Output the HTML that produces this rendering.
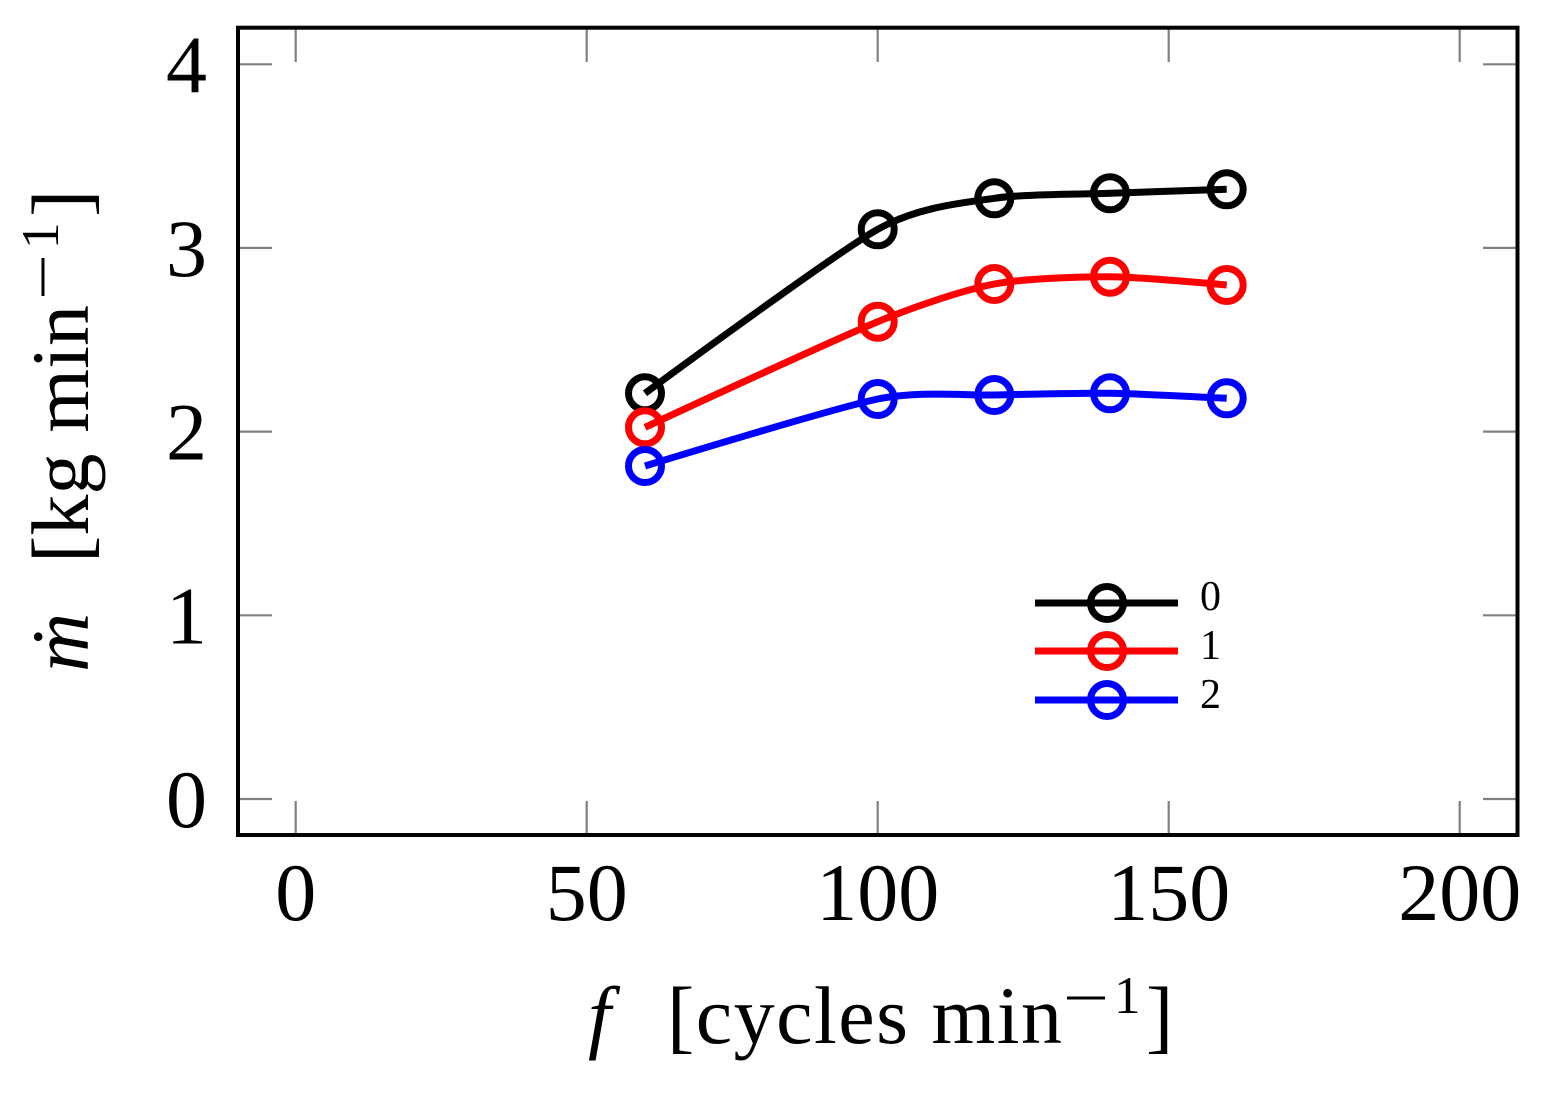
<!DOCTYPE html>
<html>
<head>
<meta charset="utf-8">
<style>
  html, body { margin: 0; padding: 0; background: #ffffff; }
  svg { display: block; }
  text { font-family: "Liberation Serif", "DejaVu Serif", serif; fill: #000; }
</style>
</head>
<body>
<svg width="1543" height="1094" viewBox="0 0 1543 1094" xmlns="http://www.w3.org/2000/svg">
  <rect x="0" y="0" width="1543" height="1094" fill="#ffffff"/>

  <!-- ticks -->
  <g stroke="#808080" stroke-width="2.2" fill="none">
    <line x1="295.7" y1="835" x2="295.7" y2="801"/>
    <line x1="586.7" y1="835" x2="586.7" y2="801"/>
    <line x1="877.7" y1="835" x2="877.7" y2="801"/>
    <line x1="1168.7" y1="835" x2="1168.7" y2="801"/>
    <line x1="1459.7" y1="835" x2="1459.7" y2="801"/>
    <line x1="295.7" y1="27.7" x2="295.7" y2="62"/>
    <line x1="586.7" y1="27.7" x2="586.7" y2="62"/>
    <line x1="877.7" y1="27.7" x2="877.7" y2="62"/>
    <line x1="1168.7" y1="27.7" x2="1168.7" y2="62"/>
    <line x1="1459.7" y1="27.7" x2="1459.7" y2="62"/>
    <line x1="238" y1="799" x2="272" y2="799"/>
    <line x1="238" y1="615.3" x2="272" y2="615.3"/>
    <line x1="238" y1="431.6" x2="272" y2="431.6"/>
    <line x1="238" y1="247.9" x2="272" y2="247.9"/>
    <line x1="238" y1="64.3" x2="272" y2="64.3"/>
    <line x1="1517.5" y1="799" x2="1483" y2="799"/>
    <line x1="1517.5" y1="615.3" x2="1483" y2="615.3"/>
    <line x1="1517.5" y1="431.6" x2="1483" y2="431.6"/>
    <line x1="1517.5" y1="247.9" x2="1483" y2="247.9"/>
    <line x1="1517.5" y1="64.3" x2="1483" y2="64.3"/>
  </g>

  <!-- series -->
  <g fill="none" stroke-width="7">
    <path stroke="#000000" d="M645,393.3 C645,393.3 835.8,252.7 877.7,229.3 C919.6,205.9 966.4,202.6 994.3,198.3 C1022.2,194.0 1082.1,194.4 1110,193.3 C1137.9,192.2 1226.7,189.3 1226.7,189.3"/>
    <g stroke="#000000">
      <circle cx="645" cy="393.3" r="16.5"/>
      <circle cx="877.7" cy="229.3" r="16.5"/>
      <circle cx="994.3" cy="198.3" r="16.5"/>
      <circle cx="1110" cy="193.3" r="16.5"/>
      <circle cx="1226.7" cy="189.3" r="16.5"/>
    </g>
    <path stroke="#ff0000" d="M645,427.3 C645,427.3 835.8,338.9 877.7,321.7 C919.6,304.5 966.4,289.4 994.3,284 C1022.2,278.6 1082.1,276.6 1110,276.7 C1137.9,276.8 1226.7,285 1226.7,285"/>
    <g stroke="#ff0000">
      <circle cx="645" cy="427.3" r="16.5"/>
      <circle cx="877.7" cy="321.7" r="16.5"/>
      <circle cx="994.3" cy="284" r="16.5"/>
      <circle cx="1110" cy="276.7" r="16.5"/>
      <circle cx="1226.7" cy="285" r="16.5"/>
    </g>
    <path stroke="#0000ff" d="M645,466 C645,466 835.8,407.5 877.7,399 C919.6,390.5 966.4,395.7 994.3,395 C1022.2,394.3 1082.1,392.9 1110,393.3 C1137.9,393.7 1226.7,398.3 1226.7,398.3"/>
    <g stroke="#0000ff">
      <circle cx="645" cy="466" r="16.5"/>
      <circle cx="877.7" cy="399" r="16.5"/>
      <circle cx="994.3" cy="395" r="16.5"/>
      <circle cx="1110" cy="393.3" r="16.5"/>
      <circle cx="1226.7" cy="398.3" r="16.5"/>
    </g>
  </g>

  <!-- legend -->
  <g fill="none" stroke-width="7">
    <line x1="1035" y1="603" x2="1178" y2="603" stroke="#000000"/>
    <circle cx="1107" cy="603" r="16.5" stroke="#000000"/>
    <line x1="1035" y1="651" x2="1178" y2="651" stroke="#ff0000"/>
    <circle cx="1107" cy="651" r="16.5" stroke="#ff0000"/>
    <line x1="1035" y1="700" x2="1178" y2="700" stroke="#0000ff"/>
    <circle cx="1107" cy="700" r="16.5" stroke="#0000ff"/>
  </g>
  <g font-size="42">
    <text x="1200" y="610">0</text>
    <text x="1200" y="659">1</text>
    <text x="1200" y="708">2</text>
  </g>

  <!-- axis frame -->
  <rect x="238" y="27.7" width="1279.5" height="807.3" fill="none" stroke="#000000" stroke-width="4"/>

  <!-- x tick labels -->
  <g font-size="82" text-anchor="middle">
    <text x="295.7" y="920">0</text>
    <text x="586.7" y="920">50</text>
    <text x="877.7" y="920">100</text>
    <text x="1168.7" y="920">150</text>
    <text x="1459.7" y="920">200</text>
  </g>

  <!-- y tick labels -->
  <g font-size="82" text-anchor="end">
    <text x="207" y="827">0</text>
    <text x="207" y="643.3">1</text>
    <text x="207" y="459.6">2</text>
    <text x="207" y="275.9">3</text>
    <text x="207" y="92.3">4</text>
  </g>

  <!-- x axis label -->
  <text x="588" y="1043" font-size="82" font-style="italic">f</text>
  <text x="667" y="1043" font-size="82" textLength="395" lengthAdjust="spacing">[cycles min</text>
  <line x1="1067" y1="998" x2="1105" y2="998" stroke="#000" stroke-width="3"/>
  <text x="1114" y="1013" font-size="53">1</text>
  <text x="1146" y="1043" font-size="82">]</text>

  <!-- y axis label -->
  <g transform="rotate(-90)">
    <text x="-672" y="88" font-size="82" font-style="italic">ṁ</text>
    <text x="-563" y="88" font-size="82" textLength="258" lengthAdjust="spacing">[kg min</text>
    <line x1="-296" y1="43" x2="-258" y2="43" stroke="#000" stroke-width="3"/>
    <text x="-249" y="58" font-size="53">1</text>
    <text x="-217" y="88" font-size="82">]</text>
  </g>
</svg>
</body>
</html>
